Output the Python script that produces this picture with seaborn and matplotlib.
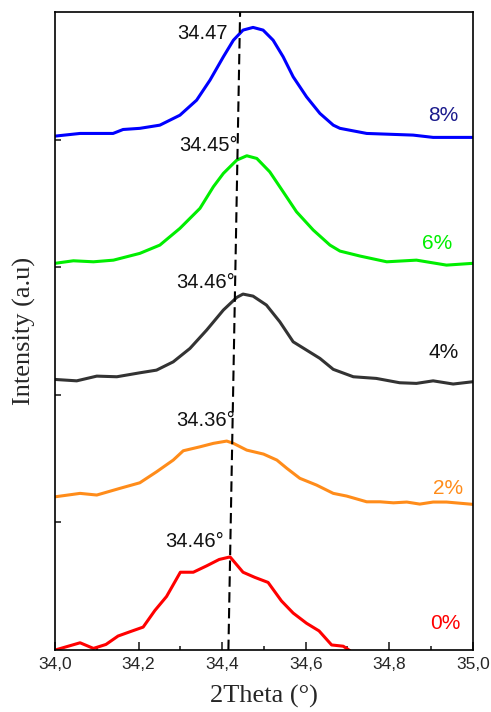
import numpy as np
import pandas as pd
import matplotlib
matplotlib.use("Agg")
import matplotlib.pyplot as plt
import seaborn as sns
from matplotlib.ticker import MultipleLocator, FuncFormatter

# ---- data (intensity per layer, layer height = 1) ----
x_0 = [34.0, 34.06, 34.092, 34.122, 34.151, 34.179, 34.211, 34.239, 34.267, 34.30,
       34.331, 34.363, 34.393, 34.419, 34.45, 34.478, 34.51, 34.542, 34.57, 34.602,
       34.632, 34.662, 34.69, 34.706]
y_0 = [0.0, 0.057, 0.013, 0.044, 0.11, 0.143, 0.18, 0.31, 0.42, 0.61,
       0.61, 0.66, 0.71, 0.73, 0.61, 0.57, 0.53, 0.385, 0.29, 0.21,
       0.15, 0.04, 0.03, -0.005]

x_2 = [34.0, 34.06, 34.1, 34.155, 34.203, 34.243, 34.283, 34.307, 34.347, 34.379,
       34.411, 34.427, 34.459, 34.499, 34.531, 34.555, 34.586, 34.626, 34.666, 34.698,
       34.746, 34.778, 34.81, 34.842, 34.873, 34.905, 34.937, 35.0]
y_2 = [0.201, 0.228, 0.215, 0.267, 0.311, 0.397, 0.489, 0.562, 0.593, 0.62,
       0.638, 0.62, 0.567, 0.536, 0.489, 0.424, 0.346, 0.293, 0.228, 0.207,
       0.162, 0.162, 0.154, 0.16, 0.144, 0.16, 0.16, 0.142]

x_4 = [34.0, 34.052, 34.1, 34.148, 34.203, 34.243, 34.283, 34.323, 34.363, 34.403,
       34.435, 34.45, 34.474, 34.506, 34.538, 34.57, 34.602, 34.634, 34.666, 34.714,
       34.769, 34.825, 34.865, 34.905, 34.953, 35.0]
y_4 = [0.121, 0.11, 0.147, 0.142, 0.173, 0.194, 0.259, 0.364, 0.508, 0.665,
       0.764, 0.79, 0.774, 0.704, 0.573, 0.416, 0.351, 0.286, 0.2, 0.142,
       0.129, 0.095, 0.09, 0.11, 0.085, 0.103]

x_6 = [34.0, 34.044, 34.092, 34.14, 34.203, 34.251, 34.299, 34.347, 34.379, 34.403,
       34.435, 34.459, 34.483, 34.514, 34.546, 34.578, 34.618, 34.658, 34.682, 34.73,
       34.794, 34.865, 34.937, 35.0]
y_6 = [0.031, 0.051, 0.043, 0.056, 0.109, 0.174, 0.305, 0.462, 0.631, 0.736,
       0.84, 0.874, 0.853, 0.748, 0.592, 0.435, 0.292, 0.174, 0.127, 0.088,
       0.043, 0.056, 0.017, 0.031]

x_8 = [34.0, 34.06, 34.139, 34.163, 34.203, 34.251, 34.299, 34.339, 34.371, 34.403,
       34.427, 34.45, 34.474, 34.498, 34.522, 34.546, 34.57, 34.602, 34.634, 34.666,
       34.682, 34.746, 34.857, 34.905, 35.0]
y_8 = [0.028, 0.049, 0.049, 0.08, 0.089, 0.114, 0.192, 0.31, 0.467, 0.65,
       0.78, 0.859, 0.88, 0.859, 0.78, 0.65, 0.493, 0.336, 0.206, 0.114,
       0.089, 0.049, 0.036, 0.018, 0.018]

doping = ["0%", "2%", "4%", "6%", "8%"]
colors = ["#ff0000", "#ff8c1a", "#333333", "#00ee00", "#0000ff"]
label_colors = ["#ff0000", "#ff8c1a", "#111111", "#00ee00", "#1a1a8c"]
peak_labels = ["34.46°", "34.36°", "34.46°", "34.45°", "34.47"]
peak_label_pos = [(34.405, 0.854), (34.431, 0.80), (34.431, 0.884), (34.438, 0.958), (34.414, 0.835)]
pct_label_pos = [(34.935, 0.21), (34.94, 0.27), (34.93, 0.33), (34.914, 0.19), (34.93, 0.19)]

xs = [x_0, x_2, x_4, x_6, x_8]
ys = [y_0, y_2, y_4, y_6, y_8]

frames = []
for i, (d, x, y) in enumerate(zip(doping, xs, ys)):
    frames.append(pd.DataFrame({"theta": x, "intensity": np.array(y) + i, "doping": d}))
df = pd.concat(frames, ignore_index=True)

sns.set_style("ticks")
plt.rcParams["font.family"] = ["Liberation Sans", "DejaVu Sans"]

fig = plt.figure(figsize=(4.91, 7.12), dpi=100)
ax = fig.add_axes([0.112, 0.087, 0.851, 0.896])

sns.lineplot(data=df, x="theta", y="intensity", hue="doping", palette=colors,
             hue_order=doping, sort=False, estimator=None, linewidth=2.2,
             legend=False, ax=ax)

# peak shift guide
ax.plot([34.415, 34.443], [0, 5], color="black", linestyle=(0, (5, 2.6)), linewidth=1.5)

for i in range(5):
    px, py = peak_label_pos[i]
    ax.text(px, py + i, peak_labels[i], ha="right", va="center", fontsize=14.5, color="#111111")
    lx, ly = pct_label_pos[i]
    ax.text(lx, ly + i, doping[i], ha="center", va="center", fontsize=15, color=label_colors[i])

ax.set_xlim(34.0, 35.0)
ax.set_ylim(0, 5)
ax.xaxis.set_major_locator(MultipleLocator(0.2))
ax.xaxis.set_minor_locator(MultipleLocator(0.1))
ax.xaxis.set_major_formatter(FuncFormatter(lambda v, p: f"{v:.1f}".replace(".", ",")))
ax.set_yticks([1, 2, 3, 4])
ax.set_yticklabels([])
ax.tick_params(axis="both", direction="in", labelsize=12.5, width=1.2)
ax.tick_params(axis="x", which="major", length=6, pad=5)
ax.tick_params(axis="x", which="minor", length=3, width=1.2, direction="in")
ax.tick_params(axis="y", length=4)
for s in ax.spines.values():
    s.set_linewidth(1.2)
    s.set_color("black")

ax.set_xlabel("2Theta (°)", fontsize=19, family="Liberation Serif", labelpad=9)
ax.set_ylabel("Intensity (a.u)", fontsize=19, family="Liberation Serif", labelpad=10)

fig.savefig("out.png", dpi=100)
